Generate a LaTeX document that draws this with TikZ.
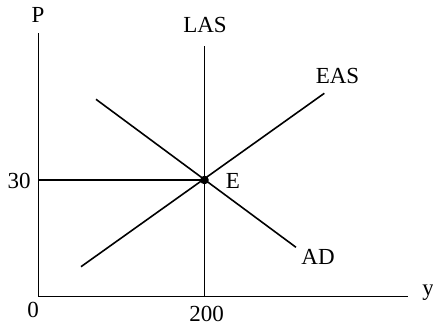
\documentclass[tikz,border=0pt]{standalone}
\usepackage{fontspec}
\setmainfont{Liberation Serif}
\begin{document}
\begin{tikzpicture}[x=1pt,y=-1pt,
  curve/.style={line width=1.6pt, line cap=butt},
  axis/.style={line width=1.2pt},
  lbl/.style={inner sep=0pt, font=\fontsize{23}{26}\selectfont}]
\useasboundingbox (0,0) rectangle (433,327);
% coordinates
\coordinate (O) at (38.3,296.7);
\coordinate (Ytop) at (38.3,33);
\coordinate (Xend) at (408,296.7);
\coordinate (E) at (204.5,180);
\coordinate (LAStop) at (204.5,46);
\coordinate (LASbot) at (204.5,296.7);
\coordinate (EASa) at (81,266.7);
\coordinate (EASb) at (324.3,93.3);
\coordinate (ADa) at (96,99.3);
\coordinate (ADb) at (296,247.3);
\coordinate (P30) at (38.3,180);
% axes
\draw[axis] (Ytop) -- (O) -- (Xend);
% curves
\draw[curve] (LAStop) -- (LASbot);
\draw[curve] (EASa) -- (EASb);
\draw[curve] (ADa) -- (ADb);
\draw[curve] (P30) -- (E);
\fill (E) circle (4.3);
% labels
\node[lbl] (lP) at (38,15) {P};
\node[lbl] (lLAS) at (205,25) {LAS};
\node[lbl] (lEAS) at (337.5,76) {EAS};
\node[lbl] (lE) at (233,180.5) {E};
\node[lbl] (lAD) at (318,257) {AD};
\node[lbl] (ly) at (428,293) {y};
\node[lbl] (l0) at (33,310) {0};
\node[lbl] (l200) at (206.5,314) {200};
\node[lbl] (l30) at (19,180.5) {30};
\end{tikzpicture}
\end{document}
